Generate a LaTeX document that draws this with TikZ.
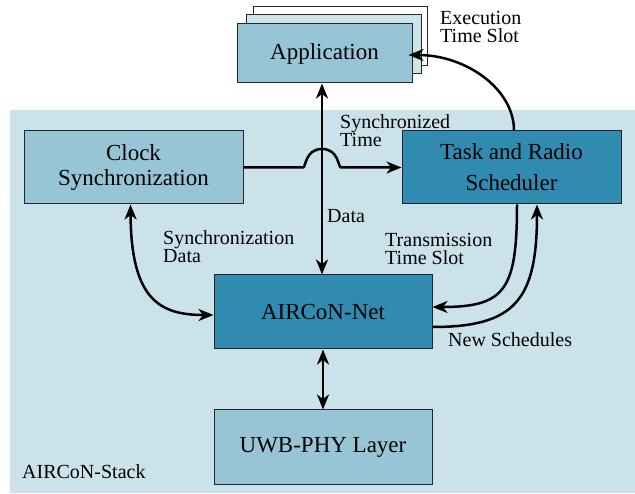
\documentclass[tikz,border=0pt]{standalone}
\usepackage{fontspec}
\setmainfont{Liberation Serif}
\usetikzlibrary{arrows.meta,calc}
\definecolor{bgc}{RGB}{203,226,234}
\definecolor{lightc}{RGB}{151,197,214}
\definecolor{darkc}{RGB}{49,139,176}
\definecolor{midc}{RGB}{206,228,235}
\begin{document}
\begin{tikzpicture}[x=1pt,y=-1pt,
  box/.style={draw=black!85, line width=1pt, inner sep=0pt, align=center,
    font=\fontsize{23}{24.5}\selectfont},
  lbl/.style={font=\fontsize{20}{18.5}\selectfont, align=left, inner sep=0pt, anchor=north west},
  tip/.tip={Stealth[length=15pt,width=12pt,inset=4.5pt]},
  arr/.style={line width=2.5pt, -tip},
  barr/.style={line width=2.5pt, tip-tip}]
\useasboundingbox (0,0) rectangle (635,494);
\fill[bgc] (10,110) rectangle (635,493);
% application stack
\node[box, fill=white, minimum width=174pt, minimum height=59pt] (app3) at (340,36.5) {};
\node[box, fill=midc, minimum width=175pt, minimum height=59pt] (app2) at (333.5,44.5) {};
\node[box, fill=lightc, minimum width=175pt, minimum height=59pt] (app) at (324.5,53.5) {Application};
% boxes
\node[box, fill=lightc, minimum width=219pt, minimum height=73pt] (clock) at (133.5,167.5) {Clock\\Synchronization};
\node[box, fill=darkc, minimum width=219pt, minimum height=73pt, font=\fontsize{23}{31}\selectfont] (task) at (511.5,167.5) {Task and Radio\\Scheduler};
\node[box, fill=darkc, minimum width=218pt, minimum height=74pt] (net) at (323,312) {AIRCoN-Net};
\node[box, fill=lightc, minimum width=218pt, minimum height=74pt] (uwb) at (323,447) {UWB-PHY Layer};
% labels
\node[lbl] (lexec) at (440,11) {Execution\\Time Slot};
\node[lbl] (lsync) at (340,114) {Synchronized\\Time};
\node[lbl] (ldata) at (327,209) {Data};
\node[lbl] (lsd) at (163,230) {Synchronization\\Data};
\node[lbl] (ltts) at (385,233) {Transmission\\Time Slot};
\node[lbl] (lns) at (448,332) {New Schedules};
\node[font=\fontsize{20}{20}\selectfont, inner sep=0pt, anchor=west] (lstack) at (22,472) {AIRCoN-Stack};
% connectors
\coordinate (dtop) at ($(app.south)+(-2.5,0)$);
\draw[barr] (dtop) -- (dtop |- net.north);
\coordinate (j1) at (303,167.5);
\coordinate (j2) at (341,167.5);
\draw[arr] (clock.east) -- (j1) .. controls (306,167.5) and (305,149) .. (322,149)
  .. controls (339,149) and (338,167.5) .. (j2) -- (task.west);
\coordinate (ta) at ($(task.north)+(2.5,0)$);
\draw[arr] (ta) .. controls (514,89) and (466,55) .. ($(app.east)+(-4,1.5)$);
\coordinate (tb) at ($(task.south)+(5.5,0)$);
\draw[arr] (tb) .. controls (517,290) and (505,307) .. ($(net.east)+(0,-5)$);
\coordinate (tc) at ($(task.south)+(25.5,0)$);
\draw[arr] ($(net.east)+(0,15)$) .. controls (515,327) and (537,300) .. (tc);
\coordinate (cs) at ($(clock.south)+(-3,0)$);
\draw[barr] (cs) .. controls (131,300) and (160,315) .. ($(net.west)+(0,3)$);
\draw[barr] (net.south) -- (uwb.north);
\end{tikzpicture}
\end{document}
